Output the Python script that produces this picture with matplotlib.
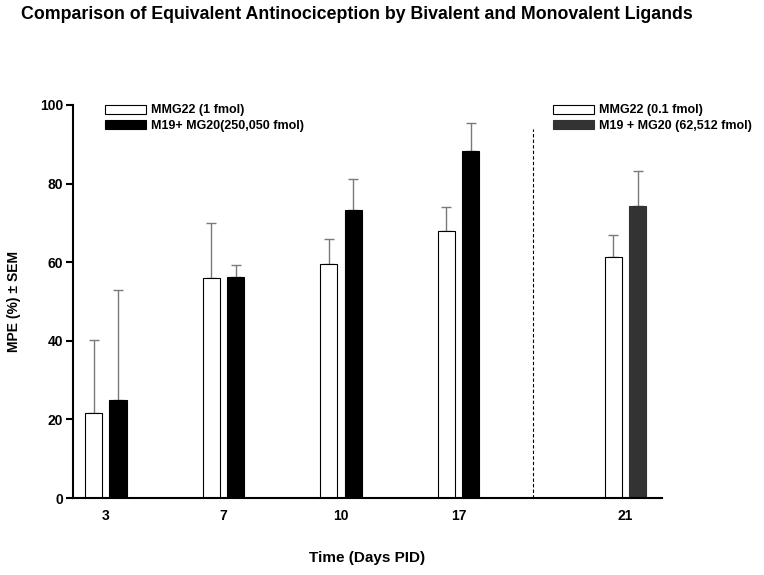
import matplotlib
matplotlib.use("Agg")
import matplotlib.pyplot as plt
import numpy as np

plt.rcParams["font.family"] = ["Liberation Sans", "DejaVu Sans"]
plt.rcParams["font.weight"] = "bold"

days = ["3", "7", "10", "17", "21"]
group_pos = [0.0, 1.0, 2.0, 3.0, 4.42]
bivalent = [21.6, 56.0, 59.5, 68.0, 61.3]
bivalent_sem = [18.6, 14.0, 6.5, 6.0, 5.7]
monovalent = [25.0, 56.2, 73.2, 88.2, 74.2]
monovalent_sem = [28.0, 3.0, 8.0, 7.3, 9.0]
divider_x = 3.63
divider_top = 94

fig = plt.figure(figsize=(7.64, 5.75), dpi=100)
ax = fig.add_axes([0.0955, 0.1339, 0.771, 0.6835])

x = np.array(group_pos)
w = 0.145
off = 0.103
ecol = "#7a7a7a"

# first four groups
b1 = ax.bar(x[:4] - off, bivalent[:4], w, color="white", edgecolor="black", lw=0.8, zorder=2)
b2 = ax.bar(x[:4] + off, monovalent[:4], w, color="black", edgecolor="black", lw=0.8, zorder=2)
# day 21 group (lower doses)
b3 = ax.bar(x[4:] - off, bivalent[4:], w, color="white", edgecolor="black", lw=0.8, zorder=2)
b4 = ax.bar(x[4:] + off, monovalent[4:], w, color="#333333", edgecolor="#333333", lw=0.8, zorder=2)

ax.errorbar(x - off, bivalent, yerr=[np.zeros(5), bivalent_sem], fmt="none",
            ecolor=ecol, elinewidth=1, capsize=3.5, capthick=1, zorder=1)
ax.errorbar(x + off, monovalent, yerr=[np.zeros(5), monovalent_sem], fmt="none",
            ecolor=ecol, elinewidth=1, capsize=3.5, capthick=1, zorder=1)

ax.vlines(divider_x, 0, divider_top, color="black", lw=0.8, ls=(0, (3, 2)))

ax.set_xlim(-0.28, 4.73)
ax.set_ylim(0, 100)
ax.set_yticks([0, 20, 40, 60, 80, 100])
ax.set_xticks(x)
ax.set_xticklabels(days)
ax.tick_params(axis="x", length=0, pad=8, labelsize=10)
ax.tick_params(axis="y", length=5, width=1.5, labelsize=10, pad=2)
for lab in ax.get_xticklabels() + ax.get_yticklabels():
    lab.set_fontweight("bold")
for s in ["top", "right"]:
    ax.spines[s].set_visible(False)
for s in ["left", "bottom"]:
    ax.spines[s].set_linewidth(1.5)

ax.set_ylabel("MPE (%) ± SEM", fontsize=10, fontweight="bold", labelpad=14)
fig.text(0.481, 1 - 558 / 575, "Time (Days PID)", fontsize=11, fontweight="bold",
         ha="center", va="center")

leg_kw = dict(loc="upper left", frameon=False, handlelength=3.3, handleheight=0.75,
              handletextpad=0.4, labelspacing=0.25, prop={"weight": "bold", "size": 9})
leg1 = ax.legend([b1, b2], ["MMG22 (1 fmol)", "M19+ MG20(250,050 fmol)"],
                 bbox_to_anchor=(0.035, 1.03), **leg_kw)
ax.add_artist(leg1)
ax.legend([b3, b4], ["MMG22 (0.1 fmol)", "M19 + MG20 (62,512 fmol)"],
          bbox_to_anchor=(0.795, 1.03), **leg_kw)

fig.text(0.028, 0.975, "Comparison of Equivalent Antinociception by Bivalent and Monovalent Ligands",
         fontsize=12.8, fontweight="bold", ha="left", va="center")

fig.savefig("out.png", dpi=100, facecolor="white")
